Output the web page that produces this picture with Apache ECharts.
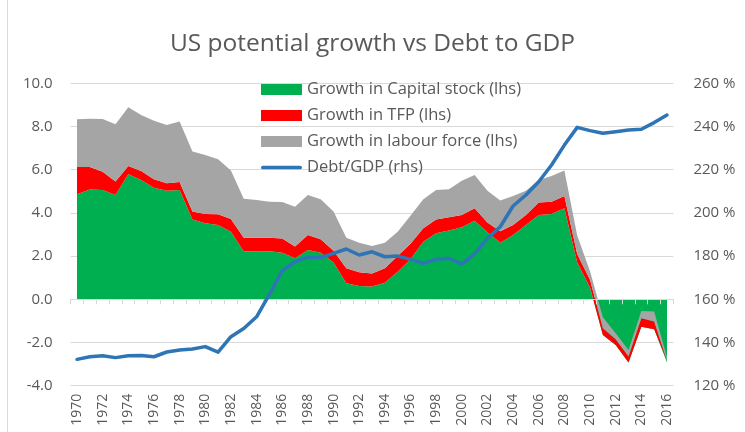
<!DOCTYPE html>
<html><head><meta charset="utf-8">
<script src="https://cdn.jsdelivr.net/npm/echarts@6/dist/echarts.min.js"></script>
<style>html,body{margin:0;padding:0;background:#fff}#c{width:745px;height:432px}</style>
</head><body><div id="c"></div>
<script>
const years = ['1970','1971','1972','1973','1974','1975','1976','1977','1978','1979','1980','1981','1982','1983','1984','1985','1986','1987','1988','1989','1990','1991','1992','1993','1994','1995','1996','1997','1998','1999','2000','2001','2002','2003','2004','2005','2006','2007','2008','2009','2010','2011','2012','2013','2014','2015','2016'];
const capital = [4.86,5.08,5.06,4.83,5.79,5.52,5.17,5.02,5.06,3.70,3.52,3.44,3.13,2.21,2.22,2.22,2.16,1.90,2.28,2.16,1.70,0.74,0.62,0.59,0.77,1.28,1.85,2.67,3.06,3.18,3.33,3.64,3.10,2.62,2.98,3.44,3.90,3.95,4.21,1.70,0.55,-1.65,-2.11,-2.93,-1.27,-1.39,-2.93];
const tfp = [1.27,1.05,0.85,0.62,0.38,0.42,0.39,0.35,0.37,0.36,0.43,0.50,0.59,0.64,0.63,0.63,0.66,0.54,0.70,0.62,0.55,0.70,0.63,0.61,0.67,0.73,0.72,0.62,0.64,0.62,0.57,0.57,0.45,0.53,0.46,0.46,0.58,0.57,0.57,0.40,0.35,0.31,0.26,0.28,0.39,0.36,0.08];
const labour = [2.20,2.23,2.44,2.65,2.72,2.59,2.71,2.70,2.80,2.78,2.73,2.54,2.24,1.80,1.75,1.67,1.69,1.85,1.85,1.85,1.81,1.41,1.37,1.27,1.18,1.12,1.30,1.34,1.36,1.29,1.59,1.55,1.48,1.42,1.34,1.13,1.04,1.19,1.18,0.85,0.40,0.51,0.28,0.30,0.34,0.46,0.15];
const debtGdp = [132.2,133.4,133.9,133.0,133.9,134.0,133.4,135.6,136.5,137.0,138.1,135.5,142.7,146.5,151.9,162.3,173.2,177.4,179.4,179.3,181.3,183.3,180.5,182.0,179.7,180.0,178.5,176.7,178.5,179.0,176.3,181.0,188.2,193.6,203.2,208.3,214.4,222.2,231.4,239.6,238.1,236.9,237.6,238.4,238.7,241.8,245.3];
const leftTicks = {min:-4, max:10, interval:2};
const rightTicks = {min:120, max:260, interval:20};

const FONT = '"Open Sans", Carlito, sans-serif';
const TXT = '#595959';
const GRID = '#d9d9d9';
const chart = echarts.init(document.getElementById('c'), null, {renderer:'canvas'});
const areaSeries = (name, data, color) => ({
  name, type:'line', data, stack:'g', stackStrategy:'all',
  xAxisIndex:1, yAxisIndex:0,
  symbol:'none', showSymbol:false, smooth:false,
  lineStyle:{width:0, color}, itemStyle:{color},
  areaStyle:{color, opacity:1}, z:2, silent:true
});
const lineIcon = 'path://M0,0L0.01,0L0.01,0.01Z M1,3.6 L39,3.6 A1.9,1.9 0 0 1 39,7.4 L1,7.4 A1.9,1.9 0 0 1 1,3.6Z M0,11L0.01,11L0.01,10.99Z';
chart.setOption({
  animation:false,
  backgroundColor:'#fff',
  textStyle:{fontFamily:FONT},
  title:{text:'US potential growth vs Debt to GDP', left:'center', top:27,
    textStyle:{fontFamily:FONT, fontSize:24.5, fontWeight:'normal', color:TXT}},
  grid:{left:70.6, right:71.6, top:83.3, bottom:46.3, containLabel:false},
  legend:{orient:'vertical', left:256, top:76, itemWidth:41, itemHeight:11, itemGap:9,
    textStyle:{fontFamily:FONT, fontSize:16.5, color:TXT, lineHeight:16},
    itemStyle:{borderWidth:0},
    data:[{name:'Growth in Capital stock (lhs)', icon:'rect'},
          {name:'Growth in TFP (lhs)', icon:'rect'},
          {name:'Growth in labour force (lhs)', icon:'rect'},
          {name:'Debt/GDP (rhs)', icon:lineIcon}]},
  xAxis:[
    {type:'category', data:years, boundaryGap:true, position:'bottom',
     axisLine:{show:false, onZero:false}, axisTick:{show:false},
     axisLabel:{interval:1, rotate:90, margin:8, fontFamily:FONT, fontSize:14, color:TXT}},
    {type:'category', data:years, boundaryGap:true, position:'bottom', z:3,
     axisLine:{show:true, onZero:true, onZeroAxisIndex:0, lineStyle:{color:GRID, width:1}},
     axisTick:{show:true, interval:0, length:5, lineStyle:{color:GRID}},
     axisLabel:{show:false}}
  ],
  yAxis:[
    {type:'value', min:leftTicks.min, max:leftTicks.max, interval:leftTicks.interval, position:'left',
     axisLine:{show:false}, axisTick:{show:false},
     splitLine:{show:true, lineStyle:{color:GRID, width:1}},
     axisLabel:{margin:18, fontFamily:FONT, fontSize:15, color:TXT, formatter:v=>v.toFixed(1)}},
    {type:'value', min:rightTicks.min, max:rightTicks.max, interval:rightTicks.interval, position:'right',
     axisLine:{show:false}, axisTick:{show:false}, splitLine:{show:false},
     axisLabel:{margin:20, fontFamily:FONT, fontSize:15, color:TXT, formatter:v=>v+' %'}}
  ],
  series:[
    areaSeries('Growth in Capital stock (lhs)', capital, '#00B050'),
    areaSeries('Growth in TFP (lhs)', tfp, '#FF0000'),
    areaSeries('Growth in labour force (lhs)', labour, '#A5A5A5'),
    {name:'Debt/GDP (rhs)', type:'line', data:debtGdp, xAxisIndex:1, yAxisIndex:1,
     symbol:'none', showSymbol:false, lineStyle:{width:3.5, color:'#2E75B6', cap:'round', join:'round'},
     itemStyle:{color:'#2E75B6'}, z:4, silent:true}
  ],
  graphic:[{type:'line', shape:{x1:7.5, y1:0, x2:7.5, y2:432}, style:{stroke:GRID, lineWidth:1}, silent:true}]
});
</script>
</body></html>
